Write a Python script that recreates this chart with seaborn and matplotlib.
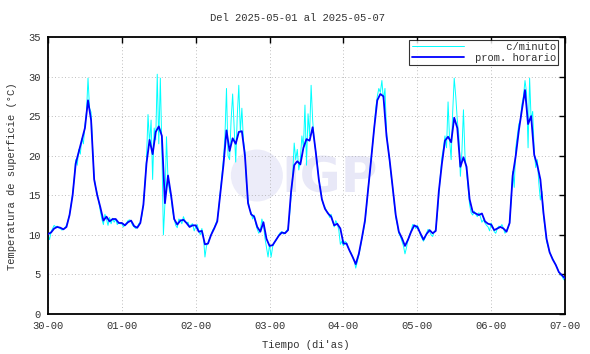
import numpy as np
import pandas as pd
import matplotlib
matplotlib.use("Agg")
import matplotlib.pyplot as plt
from matplotlib.patches import Ellipse
import seaborn as sns

# --- Data ---
day_labels = ["30-00", "01-00", "02-00", "03-00", "04-00", "05-00", "06-00", "07-00"]

# hourly mean, one row per day (hours 0..23), plus the closing value at 07-00
hourly = [
    [10.1, 10.3, 10.8, 11.0, 10.9, 10.7, 11.0, 12.5, 15.0, 19.0, 20.5, 22.0,
     23.5, 27.0, 24.5, 17.0, 15.0, 13.5, 11.8, 12.3, 11.7, 12.0, 12.0, 11.5],
    [11.5, 11.2, 11.6, 11.8, 11.1, 10.9, 11.5, 13.8, 19.0, 22.0, 20.2, 23.0,
     23.7, 22.5, 14.0, 17.5, 15.0, 12.0, 11.3, 11.8, 11.9, 11.5, 11.0, 11.2],
    [11.2, 10.4, 10.5, 8.8, 8.9, 10.0, 10.8, 11.7, 15.3, 18.8, 23.2, 20.6,
     22.2, 21.5, 23.0, 23.1, 20.0, 14.0, 12.6, 12.3, 11.0, 10.4, 11.6, 9.5],
    [8.6, 8.7, 9.3, 9.9, 10.3, 10.2, 10.6, 15.5, 18.8, 19.3, 18.9, 21.0,
     22.1, 21.9, 23.6, 20.5, 17.0, 14.5, 13.3, 12.7, 12.3, 11.2, 11.4, 10.8],
    [8.9, 8.9, 8.0, 7.2, 6.3, 7.6, 9.6, 11.8, 15.6, 19.5, 23.5, 27.0,
     27.8, 27.5, 22.5, 19.5, 16.0, 12.5, 10.4, 9.6, 8.6, 9.4, 10.4, 11.2],
    [11.0, 10.2, 9.4, 10.1, 10.6, 10.2, 10.5, 15.5, 19.0, 21.9, 22.4, 21.7,
     24.8, 23.5, 18.6, 19.8, 18.6, 14.5, 12.9, 12.7, 12.5, 12.7, 11.7, 11.4],
    [11.3, 10.6, 10.8, 11.0, 10.8, 10.4, 11.5, 17.5, 20.0, 23.2, 25.8, 28.3,
     24.0, 25.0, 20.1, 18.8, 17.0, 12.8, 9.5, 7.8, 6.9, 6.2, 5.3, 4.9],
]
hourly_end = 4.5

# per-minute series, sampled every half hour (48 values per day)
minute = [
    [10.0, 9.4, 10.4, 10.8, 11.2, 11.0, 11.1, 10.9, 10.8, 10.6, 10.7, 10.9,
     11.2, 11.8, 12.6, 13.8, 15.2, 17.0, 19.5, 18.8, 20.8, 20.2, 22.2, 21.5,
     23.8, 25.5, 29.8, 26.0, 25.5, 21.0, 17.2, 16.0, 15.2, 14.2, 13.0, 12.0,
     11.3, 12.6, 12.0, 11.2, 12.2, 11.4, 12.1, 11.6, 12.0, 11.3, 11.6, 11.4],
    [11.4, 11.0, 11.3, 11.5, 11.8, 11.9, 11.7, 11.2, 11.0, 10.8, 11.0, 11.4,
     11.6, 12.4, 13.9, 16.5, 19.5, 25.2, 21.5, 24.5, 17.0, 23.5, 22.0, 30.3,
     21.5, 29.8, 21.0, 10.0, 14.0, 22.4, 17.0, 15.5, 14.8, 13.0, 12.0, 11.2,
     10.9, 12.0, 11.9, 11.4, 12.3, 11.8, 11.5, 11.6, 11.0, 11.3, 11.4, 10.5],
    [11.0, 11.3, 10.5, 10.0, 10.8, 9.8, 7.2, 8.6, 9.0, 9.6, 10.0, 10.6,
     10.9, 11.4, 11.9, 13.4, 15.5, 17.5, 19.5, 22.5, 28.5, 20.0, 19.5, 24.5,
     27.8, 23.5, 19.2, 25.0, 28.9, 23.0, 26.0, 22.0, 20.5, 16.5, 14.5, 13.2,
     12.8, 12.0, 12.5, 11.4, 10.7, 10.2, 10.6, 12.0, 11.3, 9.6, 8.4, 7.2],
    [8.8, 7.2, 8.5, 9.0, 9.3, 9.6, 10.0, 10.3, 10.4, 10.1, 10.3, 10.5,
     10.8, 12.5, 15.0, 17.5, 21.6, 19.5, 20.8, 18.2, 19.5, 22.5, 21.0, 26.4,
     18.8, 25.3, 22.5, 28.9, 24.5, 22.0, 20.5, 19.0, 17.0, 15.8, 14.5, 13.8,
     13.5, 13.0, 12.8, 12.2, 12.6, 11.8, 11.0, 11.8, 11.4, 10.6, 8.8, 9.2],
    [8.6, 9.2, 9.0, 8.4, 8.0, 7.7, 7.2, 6.8, 5.8, 6.6, 7.4, 8.4,
     9.5, 10.5, 11.6, 13.5, 15.8, 17.5, 19.8, 21.5, 23.5, 26.0, 27.5, 28.5,
     28.0, 29.5, 27.0, 28.5, 23.0, 21.0, 19.2, 17.5, 16.0, 14.0, 12.2, 11.3,
     10.2, 9.8, 9.2, 8.6, 7.6, 8.4, 9.4, 10.0, 10.5, 11.3, 11.2, 10.8],
    [11.2, 10.8, 10.0, 9.6, 9.2, 9.6, 10.2, 10.7, 10.4, 10.0, 9.8, 10.4,
     10.7, 12.5, 15.0, 17.5, 19.8, 21.0, 22.5, 21.0, 26.8, 22.0, 19.5, 25.5,
     29.8, 27.5, 24.5, 22.5, 17.4, 20.5, 25.8, 20.0, 18.0, 16.0, 13.8, 12.8,
     12.5, 13.0, 12.6, 12.3, 12.8, 12.3, 11.6, 11.9, 11.5, 11.2, 11.0, 10.5],
    [11.5, 11.0, 10.4, 10.2, 10.8, 11.1, 11.0, 11.3, 10.8, 10.2, 10.6, 10.9,
     11.5, 14.5, 18.0, 16.0, 21.0, 22.5, 24.0, 24.5, 26.5, 27.5, 29.5, 28.0,
     21.0, 29.8, 24.5, 25.6, 20.5, 18.5, 19.5, 16.5, 14.4, 15.5, 12.5, 10.8,
     9.2, 8.5, 7.8, 7.4, 7.0, 6.6, 6.2, 5.8, 5.3, 5.0, 4.8, 4.4],
]
minute_end = 4.2

# --- Build tables (time in days since 30-00) ---
n_days = len(hourly)
t_hour = np.append(np.arange(n_days * 24) / 24.0, n_days)
v_hour = np.append(np.concatenate(hourly), hourly_end)
t_min = np.append(np.arange(n_days * 48) / 48.0, n_days)
v_min = np.append(np.concatenate(minute), minute_end)

df_hour = pd.DataFrame({"t": t_hour, "temp": v_hour})
df_min = pd.DataFrame({"t": t_min, "temp": v_min})

# --- Style ---
sns.set_style("white")
plt.rcParams["font.family"] = ["Liberation Mono", "DejaVu Sans Mono"]
plt.rcParams["font.size"] = 7.6

fig = plt.figure(figsize=(5.9, 3.54), dpi=100)
ax = fig.add_axes([48 / 590, 40 / 354, 517 / 590, 277 / 354])

# faint watermark logo (round badge + letters)
ax.add_patch(Ellipse((0.404, 0.50), 52 / 517, 52 / 277, transform=ax.transAxes,
                     color="#ececf9", zorder=0, lw=0))
ax.text(0.545, 0.49, "IGP", transform=ax.transAxes, ha="center", va="center",
        fontsize=36, fontweight="bold", family="DejaVu Sans",
        color="#e8e8f7", zorder=0)

sns.lineplot(data=df_min, x="t", y="temp", ax=ax, color="#00ffff",
             lw=0.7, label="     c/minuto", zorder=2)
sns.lineplot(data=df_hour, x="t", y="temp", ax=ax, color="#0000ff",
             lw=1.3, label="prom. horario", zorder=3)

ax.set_xlim(0, n_days)
ax.set_ylim(0, 35)
ax.set_xticks(range(n_days + 1))
ax.set_xticklabels(day_labels)
ax.set_yticks(range(0, 36, 5))

ax.grid(True, color="#a8a8a8", lw=0.6, linestyle=(0, (1, 3)))
ax.tick_params(direction="in", top=True, right=True, length=4, width=1,
               colors="black", labelcolor="#333333", pad=5)
for s in ax.spines.values():
    s.set_color("black")
    s.set_linewidth(1.3)

ax.set_xlabel("")
ax.set_ylabel("")
fig.text(306 / 590, 1 - 345 / 354, "Tiempo (di'as)", ha="center", va="center",
         color="#333333")
fig.text(12 / 590, 1 - 176 / 354, "Temperatura de superficie (°C)",
         rotation=90, ha="center", va="center", color="#333333")
fig.text(298 / 590, 1 - 18 / 354, "Del 2025-05-01 al 2025-05-07",
         ha="center", va="center", color="#333333")

leg = ax.legend(loc="upper right", bbox_to_anchor=(0.987, 0.99),
                borderaxespad=0, frameon=True, fancybox=False,
                handlelength=5, handletextpad=1.0, labelspacing=0.1,
                borderpad=0.2)
leg.get_frame().set_edgecolor("black")
leg.get_frame().set_linewidth(0.8)
for txt in leg.get_texts():
    txt.set_color("#333333")

fig.savefig("out.png", dpi=100)
